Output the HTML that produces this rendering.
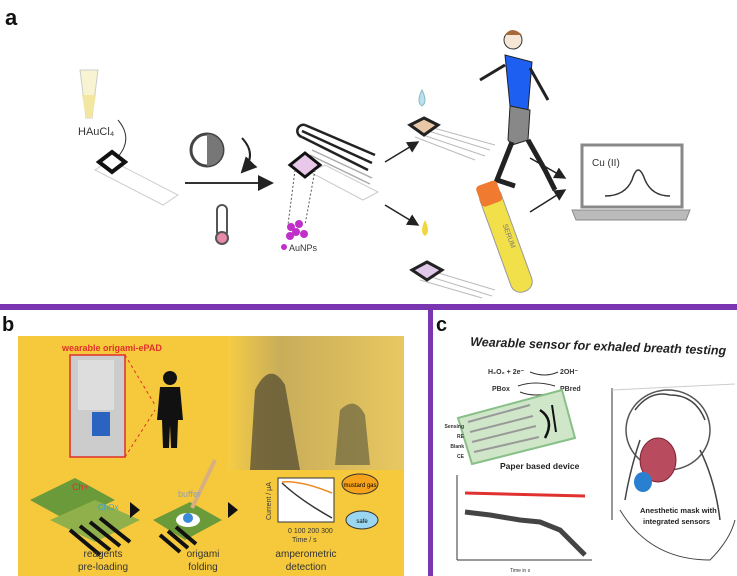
<!DOCTYPE html>
<html><head><meta charset="utf-8"><style>
html,body{margin:0;padding:0;background:#fff;}
svg{display:block;font-family:"Liberation Sans",sans-serif;}
</style></head><body>
<svg width="737" height="576" viewBox="0 0 737 576" xmlns="http://www.w3.org/2000/svg">
<defs>
<marker id="ar" markerWidth="8" markerHeight="8" refX="7" refY="4" orient="auto"><path d="M0,0 L8,4 L0,8 z" fill="#222"/></marker>
<linearGradient id="kh" x1="0" y1="0" x2="1" y2="0"><stop offset="0" stop-color="#f5cc45"/><stop offset="0.3" stop-color="#c9ad5a"/><stop offset="1" stop-color="#e8c860"/></linearGradient>
</defs>
<rect width="737" height="576" fill="#fff"/>
<text x="5" y="25" font-size="22" font-weight="bold" fill="#111">a</text>
<path d="M80,70 L98,70 L92,118 L86,118 z" fill="#f8f3d0" stroke="#ccc"/>
<path d="M82,95 L96,95 L92,118 L86,118 z" fill="#f2e6a0"/>
<text x="78" y="135" font-size="11" fill="#333">HAuCl₄</text>
<path d="M118,120 Q135,140 115,160" fill="none" stroke="#333"/>
<polygon points="95,170 110,160 178,195 163,205" fill="#fff" stroke="#ccc"/>
<polygon points="112,152 125,162 112,172 99,162" fill="#fff" stroke="#111" stroke-width="4"/>
<line x1="185" y1="183" x2="272" y2="183" stroke="#333" stroke-width="2" marker-end="url(#ar)"/>
<circle cx="207" cy="150" r="16" fill="#fff" stroke="#444" stroke-width="3"/>
<path d="M207,134 A16,16 0 0,1 207,166 z" fill="#777"/>
<path d="M242,138 Q258,155 242,172" fill="none" stroke="#222" stroke-width="2" marker-end="url(#ar)"/>
<rect x="217" y="205" width="10" height="32" rx="5" fill="#fff" stroke="#555" stroke-width="2"/>
<circle cx="222" cy="238" r="6" fill="#e98aa8" stroke="#555" stroke-width="2"/>
<g stroke="#222" stroke-width="2.5" fill="none"><line x1="305" y1="125" x2="375" y2="155"/><line x1="302" y1="131" x2="372" y2="163"/><line x1="302" y1="137" x2="368" y2="170"/><path d="M305,125 A6,6 0 1,0 302,137"/></g>
<g stroke="#aaa" stroke-width="1.5"><line x1="312" y1="150" x2="372" y2="178"/><line x1="310" y1="155" x2="370" y2="184"/><line x1="308" y1="160" x2="368" y2="190"/></g>
<polygon points="310,172 325,165 378,192 363,200" fill="#fff" stroke="#ccc"/>
<polygon points="305,153 320,165 305,177 290,165" fill="#e8c8e8" stroke="#111" stroke-width="3"/>
<g stroke="#555" stroke-dasharray="2,2"><line x1="295" y1="170" x2="288" y2="225"/><line x1="315" y1="170" x2="305" y2="225"/></g>
<g fill="#c030c8"><circle cx="291" cy="227" r="4"/><circle cx="299" cy="224" r="4"/><circle cx="296" cy="232" r="4"/><circle cx="304" cy="234" r="4"/><circle cx="290" cy="236" r="4"/></g>
<circle cx="284" cy="247" r="3" fill="#c030c8"/><text x="289" y="251" font-size="9" fill="#333">AuNPs</text>
<line x1="385" y1="162" x2="418" y2="142" stroke="#222" stroke-width="1.5" marker-end="url(#ar)"/>
<line x1="385" y1="205" x2="418" y2="225" stroke="#222" stroke-width="1.5" marker-end="url(#ar)"/>
<path d="M422,90 Q416,102 422,106 Q428,102 422,90 z" fill="#bcdff2" stroke="#8bb"/>
<g stroke="#bbb"><line x1="425" y1="130" x2="490" y2="150"/><line x1="420" y1="134" x2="485" y2="156"/><line x1="430" y1="127" x2="495" y2="145"/><line x1="415" y1="137" x2="475" y2="160"/></g>
<polygon points="424,118 438,125 424,135 410,125" fill="#e9c8a8" stroke="#222" stroke-width="3"/>
<path d="M425,220 Q419,232 425,236 Q431,232 425,220 z" fill="#f2d640"/>
<g stroke="#bbb"><line x1="428" y1="276" x2="492" y2="296"/><line x1="420" y1="280" x2="482" y2="298"/><line x1="435" y1="272" x2="495" y2="290"/></g>
<polygon points="427,262 442,270 427,280 412,270" fill="#e0c8e8" stroke="#222" stroke-width="3"/>
<circle cx="513" cy="40" r="9" fill="#f5e6d6" stroke="#333"/>
<path d="M505,35 Q512,25 522,35" fill="#a7693a"/>
<path d="M505,55 L532,62 L528,110 L510,106 z" fill="#1d5ff0" stroke="#222"/>
<path d="M510,106 L530,110 L528,140 L512,145 L508,140 z" fill="#888" stroke="#222"/>
<path d="M512,142 L497,180 L515,186 M528,140 L545,170 L555,190" stroke="#222" stroke-width="5" fill="none"/>
<path d="M505,65 L480,80 M530,68 L548,100" stroke="#222" stroke-width="3" fill="none"/>
<g transform="rotate(-20 505 240)"><rect x="495" y="185" width="22" height="110" rx="10" fill="#f2e04a" stroke="#999"/><rect x="495" y="180" width="22" height="22" rx="4" fill="#f07a30"/><text x="508" y="225" font-size="7" fill="#777" transform="rotate(90 508 225)">SERUM</text></g>
<line x1="530" y1="212" x2="565" y2="190" stroke="#222" stroke-width="1.5" marker-end="url(#ar)"/>
<line x1="530" y1="158" x2="565" y2="178" stroke="#222" stroke-width="1.5" marker-end="url(#ar)"/>
<rect x="582" y="145" width="100" height="62" fill="#fff" stroke="#888" stroke-width="3"/>
<polygon points="572,210 690,210 686,220 576,220" fill="#bbb" stroke="#888"/>
<text x="592" y="166" font-size="10" fill="#333">Cu (II)</text>
<path d="M605,196 Q625,196 632,180 Q638,160 645,180 Q652,196 670,196" fill="none" stroke="#333" stroke-width="1.5"/>
<rect x="0" y="304" width="737" height="6" fill="#7a36b0"/>
<rect x="428" y="304" width="5" height="272" fill="#7a36b0"/>
<text x="2" y="331" font-size="20" font-weight="bold" fill="#111">b</text>
<rect x="18" y="336" width="386" height="240" fill="#f6c93d"/>
<rect x="228" y="336" width="176" height="134" fill="url(#kh)"/>
<path d="M255,390 Q270,360 285,385 L300,470 L250,470 z" fill="#5c5434" opacity="0.8"/>
<path d="M340,410 Q355,395 365,415 L370,465 L335,465 z" fill="#6b6440" opacity="0.7"/>
<text x="62" y="351" font-size="9" font-weight="bold" fill="#e0302a">wearable origami-ePAD</text>
<rect x="70" y="355" width="55" height="102" fill="#ccc" stroke="#e0302a" stroke-width="1.5"/>
<rect x="78" y="360" width="36" height="50" fill="#ddd"/>
<rect x="92" y="412" width="18" height="24" fill="#2a64c0"/>
<line x1="125" y1="355" x2="155" y2="405" stroke="#e0302a" stroke-dasharray="3,3"/>
<line x1="125" y1="457" x2="155" y2="410" stroke="#e0302a" stroke-dasharray="3,3"/>
<circle cx="170" cy="378" r="7" fill="#111"/>
<path d="M160,387 L180,387 L183,420 L178,420 L177,448 L171,448 L170,425 L169,448 L163,448 L162,420 L157,420 z" fill="#111"/>
<polygon points="30,500 75,478 115,500 70,522" fill="#6a9a3a"/>
<polygon points="50,520 95,500 140,520 95,542" fill="#8fb04a"/>
<g stroke="#111" stroke-width="4"><line x1="70" y1="530" x2="100" y2="555"/><line x1="80" y1="526" x2="110" y2="550"/><line x1="90" y1="522" x2="120" y2="546"/><line x1="100" y1="518" x2="130" y2="542"/></g>
<text x="72" y="490" font-size="9" fill="#e0302a">Ch+</text>
<text x="98" y="510" font-size="8" fill="#3aa0d8">ChOx</text>
<polygon points="130,502 140,510 130,518" fill="#111"/>
<polygon points="153,520 190,502 222,520 185,540" fill="#6a9a3a"/>
<ellipse cx="188" cy="520" rx="12" ry="7" fill="#fff"/><circle cx="188" cy="518" r="5" fill="#3a8ad8"/>
<g stroke="#111" stroke-width="4"><line x1="160" y1="535" x2="180" y2="552"/><line x1="168" y1="531" x2="188" y2="548"/><line x1="176" y1="527" x2="196" y2="544"/></g>
<line x1="192" y1="508" x2="215" y2="460" stroke="#d8b080" stroke-width="4"/>
<text x="178" y="497" font-size="9" fill="#8aa0c0">buffer</text>
<polygon points="228,502 238,510 228,518" fill="#111"/>
<rect x="278" y="478" width="56" height="44" fill="#fff" stroke="#333"/>
<path d="M282,483 Q300,500 332,518" stroke="#333" stroke-width="1.5" fill="none"/>
<path d="M282,482 Q300,480 332,493" stroke="#f08a20" stroke-width="1.5" fill="none"/>
<text x="271" y="520" font-size="7" fill="#333" transform="rotate(-90 271 520)">Current / μA</text>
<text x="288" y="533" font-size="7" fill="#333">0 100 200 300</text>
<text x="292" y="542" font-size="7" fill="#333">Time / s</text>
<ellipse cx="360" cy="484" rx="18" ry="10" fill="#f6a21a" stroke="#333"/>
<ellipse cx="362" cy="520" rx="16" ry="9" fill="#9ad6f0" stroke="#333"/>
<text x="360" y="487" font-size="6" text-anchor="middle">mustard gas</text>
<text x="362" y="523" font-size="6" text-anchor="middle">safe</text>
<g font-size="10" fill="#333" text-anchor="middle"><text x="103" y="557">reagents</text><text x="103" y="570">pre-loading</text><text x="203" y="557">origami</text><text x="203" y="570">folding</text><text x="306" y="557">amperometric</text><text x="306" y="570">detection</text></g>
<text x="436" y="331" font-size="20" font-weight="bold" fill="#111">c</text>
<text x="470" y="350" font-size="12.5" font-weight="bold" font-style="italic" fill="#222" transform="rotate(2 590 350)">Wearable sensor for exhaled breath testing</text>
<text x="488" y="374" font-size="7" font-weight="bold" fill="#333">H₂O₂ + 2e⁻</text><text x="560" y="374" font-size="7" font-weight="bold" fill="#333">2OH⁻</text>
<text x="492" y="391" font-size="7" font-weight="bold" fill="#333">PBox</text><text x="560" y="391" font-size="7" font-weight="bold" fill="#333">PBred</text>
<path d="M530,372 Q545,378 558,372 M518,386 Q535,380 555,386 M520,392 Q535,398 555,392" stroke="#333" fill="none"/>
<polygon points="458,418 562,390 575,438 472,464" fill="#cfe6c8" stroke="#88c088" stroke-width="2"/>
<g stroke="#999" stroke-width="2"><line x1="468" y1="422" x2="530" y2="405"/><line x1="470" y1="432" x2="533" y2="416"/><line x1="472" y1="442" x2="536" y2="426"/><line x1="474" y1="452" x2="539" y2="437"/></g>
<path d="M540,410 Q555,420 545,438" stroke="#111" stroke-width="2.5" fill="none"/><line x1="552" y1="405" x2="556" y2="432" stroke="#111" stroke-width="2"/>
<g font-size="5" font-weight="bold" fill="#333" text-anchor="end"><text x="464" y="428">Sensing</text><text x="464" y="438">RE</text><text x="464" y="448">Blank</text><text x="464" y="458">CE</text></g>
<text x="500" y="469" font-size="8.5" font-weight="bold" fill="#222">Paper based device</text>
<line x1="457" y1="475" x2="457" y2="560" stroke="#333"/><line x1="457" y1="560" x2="592" y2="560" stroke="#333"/>
<line x1="465" y1="493" x2="585" y2="496" stroke="#e03030" stroke-width="3"/>
<path d="M465,512 L490,515 L520,520 L540,522 L560,530 L575,545 L585,555" stroke="#444" stroke-width="5" fill="none"/>
<text x="510" y="572" font-size="5" fill="#333">Time in s</text>
<line x1="612" y1="388" x2="612" y2="520" stroke="#333"/>
<line x1="612" y1="390" x2="735" y2="384" stroke="#ccc"/>
<ellipse cx="668" cy="430" rx="42" ry="40" fill="none" stroke="#555" stroke-width="1.5"/>
<path d="M635,410 Q650,390 670,395 Q695,395 705,420 M640,440 Q630,470 625,500 M700,450 Q715,480 720,520" stroke="#444" fill="none" stroke-width="1.5"/>
<path d="M620,510 Q650,560 710,560 Q730,540 735,520" stroke="#444" fill="none"/>
<ellipse cx="658" cy="460" rx="18" ry="22" fill="#b84c5e" stroke="#7a2030"/>
<ellipse cx="643" cy="482" rx="9" ry="10" fill="#2a80d0"/>
<text x="640" y="513" font-size="7.5" font-weight="bold" fill="#222">Anesthetic mask with</text>
<text x="643" y="524" font-size="7.5" font-weight="bold" fill="#222">integrated sensors</text>
</svg>
</body></html>
